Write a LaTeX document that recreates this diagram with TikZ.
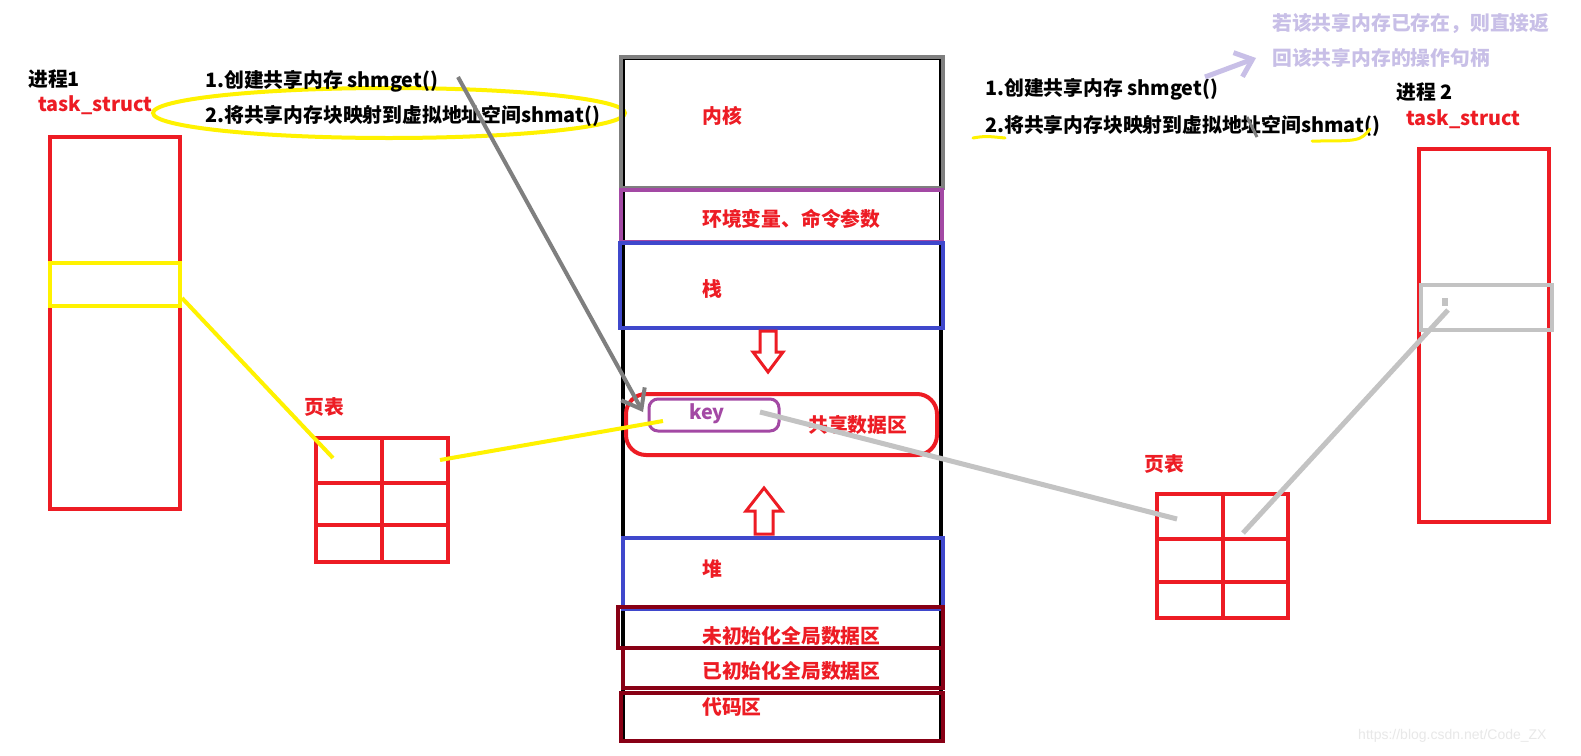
\documentclass[tikz,border=0pt]{standalone}
\usepackage{fontspec}
\setmainfont{Noto Sans CJK SC}
\newfontfamily\wmfont{Liberation Sans}
\usetikzlibrary{arrows.meta,shapes.geometric}
\definecolor{pred}{HTML}{ED1C24}
\definecolor{pyel}{HTML}{FFF200}
\definecolor{pblue}{HTML}{3F48CC}
\definecolor{ppur}{HTML}{A349A4}
\definecolor{pdark}{HTML}{880015}
\definecolor{pgray}{HTML}{7F7F7F}
\definecolor{plgray}{HTML}{C3C3C3}
\definecolor{plav}{HTML}{C8BFE7}
\definecolor{pwm}{HTML}{E8E8E8}
\begin{document}
\begin{tikzpicture}[x=1pt,y=-1pt,
  box/.style={draw, rectangle, inner sep=0pt, outer sep=0pt},
  txt/.style={font=\fontsize{19.8}{23}\selectfont\bfseries, anchor=west, inner sep=0pt},
  lbl/.style={txt, text=pred},
  blk/.style={txt, text=black},
  lav/.style={txt, text=plav},
  hl/.style={pyel, line width=4pt},
  gl/.style={plgray, line width=5pt},
]
\useasboundingbox[fill=white] (0,0) rectangle (1581,755);

% process 1
\node[box, draw=pred, line width=4pt, minimum width=130pt, minimum height=372pt] (p1) at (115,323) {};
\node[box, draw=pyel, line width=4pt, minimum width=130pt, minimum height=43pt] (y1) at (115,284.5) {};
\node[blk] (t1) at (28,79) {进程1};
\node[lbl] (ts1) at (38,105) {task\_struct};

% page table 1
\node[box, draw=pred, line width=4pt, minimum width=132pt, minimum height=124pt] (pt1) at (382,500) {};
\draw[pred, line width=4pt] (382,438) -- (382,562) (316,483) -- (448,483) (316,525) -- (448,525);
\node[lbl] (pl1) at (304,407) {页表};

% commands left
\node[box, ellipse, draw=pyel, line width=4pt, minimum width=472pt, minimum height=50pt] (ell) at (389,113) {};
\node[blk] (c1) at (205,81) {1.创建共享内存 shmget()};
\node[blk] (c2) at (205,116) {2.将共享内存块映射到虚拟地址空间shmat()};

% central column
\node[box, draw=black, line width=4pt, minimum width=318pt, minimum height=683pt] (col) at (782,399.5) {};
\node[box, draw=pgray, line width=4pt, minimum width=322pt, minimum height=131pt] (kern) at (782,122.5) {};
\node[box, draw=ppur, line width=4pt, minimum width=321pt, minimum height=52pt] (env) at (781.5,216) {};
\node[box, draw=pblue, line width=4pt, minimum width=323pt, minimum height=85pt] (stk) at (781.5,285.5) {};
\node[box, draw=pred, line width=4pt, rounded corners=20pt, minimum width=311pt, minimum height=61pt] (shr) at (781.5,424.5) {};
\node[box, draw=ppur, line width=3pt, rounded corners=9pt, minimum width=130pt, minimum height=32pt] (key) at (714,415) {};
\node[box, draw=pblue, line width=4pt, minimum width=320pt, minimum height=71pt] (heap) at (783,573.5) {};
\node[box, draw=pdark, line width=4pt, minimum width=325pt, minimum height=41pt] (bss) at (780.5,627.5) {};
\node[box, draw=pdark, line width=4pt, minimum width=320pt, minimum height=40pt] (dat) at (783,668) {};
\node[box, draw=pdark, line width=4pt, minimum width=322pt, minimum height=48pt] (code) at (782,717) {};

\node[lbl] at (702,116) {内核};
\node[lbl] at (702,219) {环境变量、命令参数};
\node[lbl] at (702,289) {栈};
\node[txt, text=ppur, anchor=center] (keyt) at (707,414) {key};
\node[lbl] at (808,425) {共享数据区};
\node[lbl] at (702,569) {堆};
\node[lbl] at (702,636) {未初始化全局数据区};
\node[lbl] at (702,671) {已初始化全局数据区};
\node[lbl] at (702,707) {代码区};

% hollow arrows
\draw[pred, line width=3pt, line join=miter] (760,331) -- (776,331) -- (776,352) -- (783,352) -- (768,372) -- (753,352) -- (760,352) -- cycle;
\draw[pred, line width=3pt, line join=miter] (755,534) -- (773,534) -- (773,511) -- (782,511) -- (764,488) -- (746,511) -- (755,511) -- cycle;

% process 2
\node[box, draw=pred, line width=4pt, minimum width=130pt, minimum height=373pt] (p2) at (1484,335.5) {};
\node[box, draw=plgray, line width=4pt, minimum width=131pt, minimum height=45pt] (g2) at (1486.5,307.5) {};
\fill[plgray] (1442,298) rectangle (1448,306);
\node[blk] (t2) at (1396,92) {进程 2};
\node[lbl] (ts2) at (1406,119) {task\_struct};

% page table 2
\node[box, draw=pred, line width=4pt, minimum width=131pt, minimum height=124pt] (pt2) at (1222.5,556) {};
\draw[pred, line width=4pt] (1223,494) -- (1223,618) (1157,539) -- (1288,539) (1157,582) -- (1288,582);
\node[lbl] (pl2) at (1144,464) {页表};

% commands right
\node[blk] (r1) at (985,89) {1.创建共享内存 shmget()};
\node[blk] (r2) at (985,126) {2.将共享内存块映射到虚拟地址空间shmat()};
\draw[pyel, line width=3pt, line cap=round] (973,138) .. controls (985,136) .. (1005,138);
\draw[pyel, line width=3pt, line cap=round] (1312,141) .. controls (1360,141) .. (1370,129);
\draw[pgray, line width=3pt] (1247,117) -- (1257,137);
\node[lav] (n1) at (1272,23) {若该共享内存已存在，则直接返};
\node[lav] (n2) at (1272,58) {回该共享内存的操作句柄};

% connectors
\coordinate (a1) at (182,298);
\coordinate (a2) at (333,458);
\coordinate (b1) at (440,460);
\coordinate (b2) at (663,421);
\coordinate (g1s) at (458,77);
\coordinate (g1e) at (643,412);
\coordinate (k1) at (760,412);
\coordinate (k2) at (1177,519);
\coordinate (q1) at (1243,533);
\coordinate (q2) at (1448,310);
\coordinate (l1) at (1205,77);
\coordinate (l2) at (1256,58);
\draw[hl] (a1) -- (a2);
\draw[hl] (b1) -- (b2);
\draw[pgray, line width=4pt, -{Straight Barb[angle=75:22pt, line width=4pt]}] (g1s) -- (g1e);
\draw[gl] (k1) -- (k2);
\draw[gl] (q1) -- (q2);
\draw[plav, line width=5pt, -{Straight Barb[angle=80:20pt, line width=5pt]}] (l1) -- (l2);

% watermark
\node[font=\wmfont\fontsize{14}{16}\selectfont, text=pwm, anchor=west, inner sep=0pt] (wm) at (1358,736) {https://blog.csdn.net/Code\_ZX};
\end{tikzpicture}
\end{document}
